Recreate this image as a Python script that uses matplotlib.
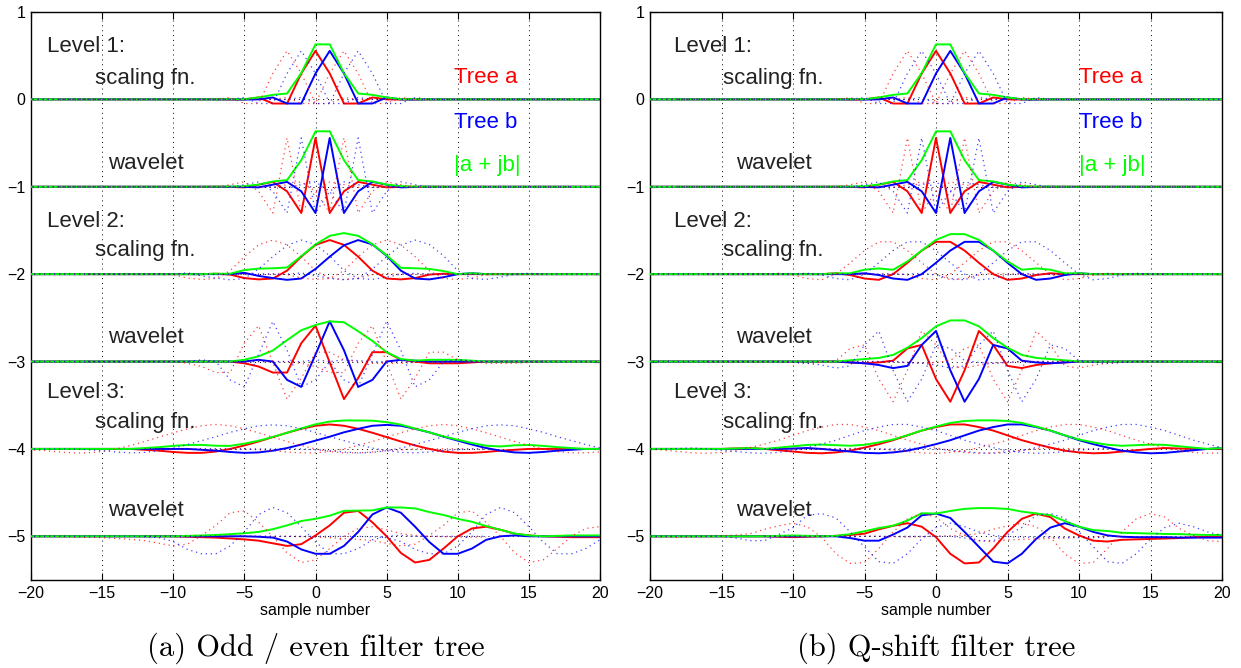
import numpy as np
import matplotlib.pyplot as plt

plt.rcParams["font.family"] = ["Liberation Sans", "DejaVu Sans"]

# ---- Config ----
OUTPUT_FIG = "out.png"
SAMPLES = np.arange(-20, 21)
LEVEL_STEP = [2, 4, 8]          # spacing of neighbouring basis functions (dotted)
TICK_X = [-20, -15, -10, -5, 0, 5, 10, 15, 20]
TICK_Y = [1, 0, -1, -2, -3, -4, -5]
RED, BLUE, GREEN = "#ff0000", "#0000ff", "#00ff00"

# ---- Data: (first sample, values) ----
# level 1 (same filters for both trees)
L1_SCAL_RED = (-6, [-0.002, 0.0, 0.022, -0.047, -0.048, 0.297, 0.555, 0.297, -0.048, -0.047, 0.022, 0.0, -0.002])
L1_SCAL_BLUE = (-5, [-0.002, 0.0, 0.022, -0.047, -0.048, 0.297, 0.555, 0.297, -0.048, -0.047, 0.022, 0.0, -0.002])
L1_WAV_RED = (-7, [0.001, -0.002, -0.007, 0.024, 0.056, -0.052, -0.30, 0.559, -0.30, -0.052, 0.056, 0.024, -0.007, -0.002, 0.001])
L1_WAV_BLUE = (-6, [0.001, -0.002, -0.007, 0.024, 0.056, -0.052, -0.30, 0.559, -0.30, -0.052, 0.056, 0.024, -0.007, -0.002, 0.001])

# (a) odd / even tree
A_L2_SCAL_RED = (-7, [0.005, -0.005, -0.045, -0.06, -0.05, 0.04, 0.20, 0.335, 0.39, 0.335, 0.20, 0.04, -0.05, -0.06, -0.045, -0.005, 0.005])
A_L2_SCAL_BLUE = (-5, [0.015, -0.02, -0.045, -0.065, -0.05, 0.06, 0.20, 0.33, 0.39, 0.34, 0.21, 0.04, -0.05, -0.06, -0.035, 0.0, 0.01])
A_L2_WAV_RED = (-6, [0.0, -0.02, -0.057, -0.126, -0.126, 0.21, 0.41, -0.01, -0.43, -0.19, 0.107, 0.107, 0.02, 0.0, -0.02, -0.02, -0.02, -0.01])
A_L2_WAV_BLUE = (-5, [0.0, 0.02, 0.0, -0.21, -0.29, 0.08, 0.46, 0.13, -0.29, -0.21, 0.0, 0.02, 0.01])
A_L3_SCAL_RED = (-13, [0, -0.01, -0.02, -0.035, -0.045, -0.045, -0.03, 0.0, 0.04, 0.085, 0.135, 0.185, 0.23, 0.265, 0.28,
                       0.265, 0.23, 0.185, 0.135, 0.085, 0.04, 0.0, -0.03, -0.045, -0.045, -0.035, -0.02, -0.01, 0])
A_L3_SCAL_BLUE = (-9, [0, -0.01, -0.02, -0.035, -0.045, -0.04, -0.02, 0.01, 0.05, 0.095, 0.14, 0.19, 0.23, 0.265, 0.275,
                       0.265, 0.23, 0.19, 0.14, 0.095, 0.05, 0.01, -0.02, -0.04, -0.045, -0.035, -0.02, -0.01, 0])
A_L3_WAV_RED = (-10, [0, -0.005, -0.01, -0.015, -0.025, -0.035, -0.05, -0.08, -0.11, -0.09, 0.01, 0.125, 0.27, 0.29, 0.16, 0.0,
                      -0.19, -0.30, -0.27, -0.14, 0.0, 0.09, 0.11, 0.075, 0.03, 0.01, 0.0, -0.005, -0.01, -0.01, -0.01])
A_L3_WAV_BLUE = (-5, [0.0, -0.005, -0.015, -0.06, -0.15, -0.2, -0.2, -0.11, 0.05, 0.25, 0.33, 0.27, 0.11, -0.065, -0.2, -0.2,
                      -0.14, -0.04, 0.0, 0.01, 0.0])

# (b) Q-shift tree
B_L2_SCAL_RED = (-7, [0.01, -0.01, -0.05, -0.065, 0.0, 0.13, 0.27, 0.37, 0.37, 0.27, 0.13, 0.0, -0.065, -0.05, -0.01, 0.01])
B_L2_SCAL_BLUE = (-5, [0.01, -0.01, -0.05, -0.065, 0.0, 0.13, 0.27, 0.37, 0.37, 0.27, 0.13, 0.0, -0.065, -0.05, -0.01, 0.01])
B_L2_WAV_RED = (-6, [-0.01, -0.02, -0.01, 0.01, 0.15, 0.19, -0.2, -0.46, -0.1, 0.35, 0.19, -0.05, -0.075, -0.04, -0.02, -0.01, 0.0])
B_L2_WAV_BLUE = (-7, [0.0, -0.01, -0.02, -0.04, -0.075, -0.05, 0.19, 0.35, -0.1, -0.46, -0.2, 0.19, 0.15, 0.01, -0.01, -0.02, -0.01])
B_L3_SCAL_RED = (-14, [0.005, 0.01, 0.0, -0.015, -0.03, -0.045, -0.05, -0.04, -0.02, 0.015, 0.055, 0.10, 0.155, 0.21, 0.25, 0.28,
                       0.28, 0.25, 0.21, 0.155, 0.10, 0.055, 0.015, -0.02, -0.04, -0.05, -0.045, -0.03, -0.015, 0.0, 0.01, 0.005])
B_L3_SCAL_BLUE = (-10, [0.005, 0.01, 0.0, -0.015, -0.03, -0.045, -0.05, -0.04, -0.02, 0.015, 0.055, 0.10, 0.155, 0.21, 0.25, 0.28,
                        0.28, 0.25, 0.21, 0.155, 0.10, 0.055, 0.015, -0.02, -0.04, -0.05, -0.045, -0.03, -0.015, 0.0, 0.01])
B_L3_WAV_RED = (-11, [-0.005, -0.01, -0.005, 0.0, 0.005, 0.015, 0.03, 0.08, 0.12, 0.15, 0.11, -0.01, -0.2, -0.31, -0.30, -0.14,
                      0.05, 0.2, 0.26, 0.22, 0.09, 0.01, -0.05, -0.06, -0.04, -0.035, -0.03, -0.025, -0.02, -0.01, -0.005, 0.0])
B_L3_WAV_BLUE = (-6, [-0.02, -0.05, -0.05, 0.02, 0.1, 0.24, 0.26, 0.21, 0.05, -0.12, -0.29, -0.31, -0.2, -0.03, 0.1, 0.15, 0.11,
                      0.05, 0.01, -0.005, -0.01, -0.01, -0.01, -0.015, -0.015, -0.015, -0.015])

PANEL_A = [(0, L1_SCAL_RED, L1_SCAL_BLUE), (0, L1_WAV_RED, L1_WAV_BLUE),
           (1, A_L2_SCAL_RED, A_L2_SCAL_BLUE), (1, A_L2_WAV_RED, A_L2_WAV_BLUE),
           (2, A_L3_SCAL_RED, A_L3_SCAL_BLUE), (2, A_L3_WAV_RED, A_L3_WAV_BLUE)]
PANEL_B = [(0, L1_SCAL_RED, L1_SCAL_BLUE), (0, L1_WAV_RED, L1_WAV_BLUE),
           (1, B_L2_SCAL_RED, B_L2_SCAL_BLUE), (1, B_L2_WAV_RED, B_L2_WAV_BLUE),
           (2, B_L3_SCAL_RED, B_L3_SCAL_BLUE), (2, B_L3_WAV_RED, B_L3_WAV_BLUE)]


def on_grid(resp):
    first, values = resp
    y = np.zeros(len(SAMPLES))
    for k, v in enumerate(values):
        i = first + k - SAMPLES[0]
        if 0 <= i < len(y):
            y[i] = v
    return y


def draw_panel(ax, rows, x_text, x_key):
    for r, (level, red_resp, blue_resp) in enumerate(rows):
        base = -r
        a = on_grid(red_resp)
        b = on_grid(blue_resp)
        mag = np.abs(a + 1j * b)
        ax.plot(SAMPLES, a + base, color=RED, lw=1.4, zorder=3)
        ax.plot(SAMPLES, b + base, color=BLUE, lw=1.4, zorder=3)
        ax.plot(SAMPLES, mag + base, color=GREEN, lw=1.4, zorder=4)
        # neighbouring basis functions, dotted
        step = LEVEL_STEP[level]
        for s in (-step, step):
            ax.plot(SAMPLES + s, a + base, color=RED, lw=0.9, ls=(0, (1, 3)), alpha=0.75, zorder=5)
            ax.plot(SAMPLES + s, b + base, color=BLUE, lw=0.9, ls=(0, (1, 3)), alpha=0.75, zorder=5)

    txt = dict(fontsize=16, ha="left", va="center", color="#222222")
    for lv, y in zip(["Level 1:", "Level 2:", "Level 3:"], [0.6, -1.4, -3.36]):
        ax.text(x_text, y, lv, **txt)
    for y in [0.24, -1.73, -3.7]:
        ax.text(x_text + 3.4, y, "scaling fn.", **txt)
    for y in [-0.73, -2.73, -4.71]:
        ax.text(x_text + 4.3, y, "wavelet", **txt)

    ax.text(x_key, 0.25, "Tree a", fontsize=16, color=RED, ha="left", va="center")
    ax.text(x_key, -0.26, "Tree b", fontsize=16, color=BLUE, ha="left", va="center")
    ax.text(x_key, -0.755, "|a + jb|", fontsize=16, color=GREEN, ha="left", va="center")

    ax.set_xlim(-20, 20)
    ax.set_ylim(-5.5, 1)
    ax.set_xticks(TICK_X)
    ax.set_yticks(TICK_Y)
    ax.tick_params(direction="in", length=5, labelsize=11.5, top=True, right=True, pad=4)
    ax.grid(True, color="black", lw=0.7, ls=(0, (1, 4)))
    ax.set_axisbelow(True)
    for sp in ax.spines.values():
        sp.set_linewidth(1.0)
    ax.set_xlabel("sample number", fontsize=11.5, labelpad=2)


def main():
    fig = plt.figure(figsize=(12.41, 6.68), dpi=100)
    ax_a = fig.add_axes([31 / 1241, 88 / 668, 569 / 1241, 568 / 668])
    ax_b = fig.add_axes([650 / 1241, 88 / 668, 572 / 1241, 568 / 668])

    draw_panel(ax_a, PANEL_A, -18.9, 9.75)
    draw_panel(ax_b, PANEL_B, -18.3, 10.0)

    cap = dict(fontsize=22, ha="center", va="center", family="cmr10")
    fig.text(315.5 / 1241, 0.03, "(a) Odd / even filter tree", **cap)
    fig.text(936 / 1241, 0.03, "(b) Q-shift filter tree", **cap)

    fig.savefig(OUTPUT_FIG, dpi=100)
    print(f"Saved: {OUTPUT_FIG}")


if __name__ == "__main__":
    main()
